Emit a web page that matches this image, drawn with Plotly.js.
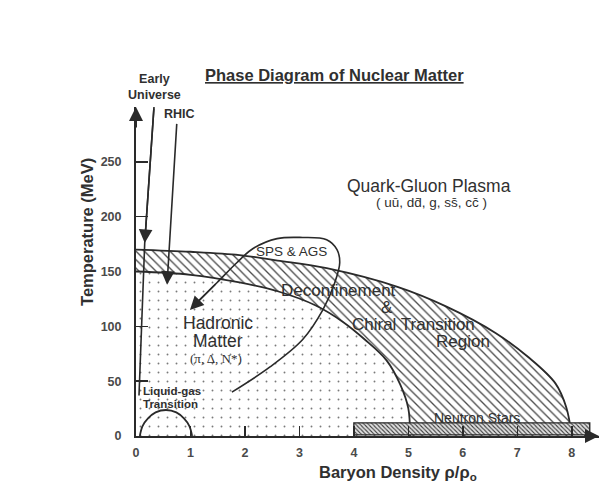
<!DOCTYPE html>
<html><head><meta charset="utf-8">
<script src="https://cdn.plot.ly/plotly-3.0.1.min.js"></script>
<style>html,body{margin:0;padding:0;background:#fff;}#chart{width:601px;height:487px;}</style>
</head><body><div id="chart"></div>
<script>
// ---- data ----
const xTickVals = [0, 1, 2, 3, 4, 5, 6, 7, 8];
const yTickVals = [0, 50, 100, 150, 200, 250];

// upper edge of the deconfinement / chiral transition band
const upperRho = [0, 1.0, 1.9, 2.6, 3.5, 4.8, 5.7, 6.6, 7.2, 7.7, 7.9, 8.0];
const upperT   = [170, 168, 165, 160, 153, 136, 118, 94, 72, 48, 26, 0];
// lower edge (boundary of hadronic matter)
const lowerRho = [0, 1.0, 1.9, 2.6, 3.3, 3.8, 4.2, 4.6, 4.85, 5.0, 5.03];
const lowerT   = [150, 147, 140, 132, 119, 104, 88, 69, 47, 25, 0];

// SPS & AGS trajectory (loop)
const spsRho = [1.76, 2.46, 3.06, 3.43, 3.65, 3.74, 3.69, 3.50, 3.06, 2.59, 2.15, 1.85, 1.49, 1.12];
const spsT   = [40, 63, 88, 115, 140, 158, 170, 179, 181, 180, 171, 158, 140, 122];

// Early universe trajectory
const euRho = [0.33, 0.16, 0.055];
const euT   = [300, 176, 37];

// RHIC trajectory (start, end)
const rhicRho = [0.75, 0.57];
const rhicT   = [286, 138];

// liquid-gas transition dome
const lgRho = [0.07, 0.12, 0.22, 0.36, 0.55, 0.74, 0.88, 0.98, 1.03];
const lgT   = [0, 9, 16, 21.5, 23.7, 21.5, 16, 9, 0];

// neutron star bar
const nsRho = [4.0, 8.33, 8.33, 4.0, 4.0];
const nsT   = [1, 1, 12, 12, 1];

// ---- drawing ----
const INK = '#2a2a2a';
const FONT = 'Liberation Sans, Arial, sans-serif';

const traces = [
  // hadronic matter: dotted region under the lower curve
  {x: lowerRho, y: lowerT, mode: 'lines', line: {width: 1.8, color: INK, shape: 'spline'},
   fill: 'tozeroy', fillcolor: '#8a8a8a',
   fillpattern: {shape: '.', size: 9, solidity: 0.035, fgcolor: '#7a7a7a', bgcolor: 'rgba(0,0,0,0)'},
   hoverinfo: 'skip'},
  // hatched band between the curves
  {x: upperRho, y: upperT, mode: 'lines', line: {width: 1.8, color: INK, shape: 'spline'},
   fill: 'tonexty', fillcolor: '#555',
   fillpattern: {shape: '\\', size: 6, solidity: 0.22, fgcolor: '#4a4a4a', bgcolor: 'rgba(0,0,0,0)'},
   hoverinfo: 'skip'},
  // SPS & AGS loop
  {x: spsRho, y: spsT, mode: 'lines', line: {width: 1.6, color: INK, shape: 'spline'}, hoverinfo: 'skip'},
  // early universe
  {x: euRho, y: euT, mode: 'lines', line: {width: 1.6, color: INK}, hoverinfo: 'skip'},
  // liquid-gas dome
  {x: lgRho, y: lgT, mode: 'lines', line: {width: 1.8, color: INK, shape: 'spline'}, hoverinfo: 'skip'},
  // neutron stars bar
  {x: nsRho, y: nsT, mode: 'lines', line: {width: 1.4, color: INK}, fill: 'toself', fillcolor: '#444',
   fillpattern: {shape: '\\', size: 3, solidity: 0.35, fgcolor: '#3a3a3a', bgcolor: '#e0e0e0'},
   hoverinfo: 'skip'}
];

const n = spsRho.length;
const arrowBase = {text: '', showarrow: true, axref: 'x', ayref: 'y', xref: 'x', yref: 'y',
  arrowhead: 2, arrowsize: 1.7, arrowwidth: 1.6, arrowcolor: INK, standoff: 0};

function txt(t, x, y, size, opts) {
  return Object.assign({text: t, x: x, y: y, xref: 'x', yref: 'y', showarrow: false,
    xanchor: 'center', yanchor: 'middle',
    font: {family: FONT, size: size, color: '#303030'}}, opts || {});
}
function ptxt(t, x, y, size, opts) {
  return Object.assign({text: t, x: x, y: y, xref: 'paper', yref: 'paper', showarrow: false,
    xanchor: 'center', yanchor: 'middle',
    font: {family: FONT, size: size, color: '#303030'}}, opts || {});
}

const annotations = [
  // arrows
  Object.assign({}, arrowBase, {x: rhicRho[1], y: rhicT[1], ax: rhicRho[0], ay: rhicT[0]}),
  Object.assign({}, arrowBase, {x: euRho[1], y: euT[1], ax: euRho[0], ay: euT[0]}),
  Object.assign({}, arrowBase, {x: spsRho[n - 1] - 0.13, y: spsT[n - 1] - 7, ax: spsRho[n - 2], ay: spsT[n - 2]}),
  // axis arrows
  Object.assign({}, arrowBase, {x: 8.5, y: 0, ax: 8.2, ay: 0, arrowwidth: 2, arrowsize: 1.4}),
  Object.assign({}, arrowBase, {x: 0, y: 300, ax: 0, ay: 280, arrowwidth: 2, arrowsize: 1.4}),
  // title & axis titles
  ptxt('<b><u>Phase Diagram of Nuclear Matter</u></b>', 0.428, 1.097, 16.5),
  ptxt('<b>Temperature (MeV)</b>', -0.106, 0.62, 16.5, {textangle: -90}),
  ptxt('<b>Baryon Density ρ/ρ<sub>o</sub></b>', 0.565, -0.112, 16.5),
  ptxt('<b>Early<br>Universe</b>', 0.039, 1.06, 12.5),
  // labels inside
  txt('<b>RHIC</b>', 0.79, 294, 12.5),
  txt('SPS &amp; AGS', 2.86, 168, 13.5),
  txt('Quark-Gluon Plasma', 5.38, 228, 17.5),
  txt('( u\u016B, dd\u0304, g, ss\u0304, cc\u0304 )', 5.43, 213, 13.5),
  txt('Deconfinement', 3.71, 133, 17),
  txt('&amp;', 4.61, 117.5, 17),
  txt('Chiral Transition', 5.10, 102, 17),
  txt('Region', 6.0, 86.5, 17),
  txt('Hadronic', 1.5, 103, 17.5),
  txt('Matter', 1.5, 86.5, 17.5),
  txt('(π, Δ, N*)', 1.47, 71, 13, {font: {family: 'Liberation Serif, serif', size: 13, color: '#303030'}}),
  txt('<b>Liquid-gas</b>', 0.09, 41, 11.5, {xanchor: 'left'}),
  txt('<b>Transition</b>', 0.09, 29, 11.5, {xanchor: 'left'}),
  txt('Neutron Stars', 6.26, 16.5, 14)
];

const layout = {
  width: 601, height: 487,
  margin: {l: 136, r: 2, t: 107, b: 51},
  paper_bgcolor: '#ffffff', plot_bgcolor: '#ffffff',
  showlegend: false,
  font: {family: FONT, color: '#303030'},
  xaxis: {range: [0, 8.5], showgrid: false, zeroline: false, showline: true, linecolor: INK, linewidth: 2,
    ticks: 'inside', ticklen: 10, tickwidth: 1.5, tickcolor: INK, tickvals: xTickVals,
    ticktext: xTickVals.map(String), ticklabelstandoff: 4, automargin: false,
    tickfont: {family: FONT, size: 12.5, color: '#4a4a4a', weight: 'bold'}},
  yaxis: {range: [0, 300], showgrid: false, zeroline: false, showline: true, linecolor: INK, linewidth: 2,
    ticks: 'inside', ticklen: 12, tickwidth: 1.5, tickcolor: INK, tickvals: yTickVals,
    ticktext: yTickVals.map(String), ticklabelstandoff: 10, automargin: false,
    tickfont: {family: FONT, size: 12.5, color: '#4a4a4a', weight: 'bold'}},
  annotations: annotations
};

Plotly.newPlot('chart', traces, layout, {displayModeBar: false, staticPlot: true});
</script>
</body></html>
